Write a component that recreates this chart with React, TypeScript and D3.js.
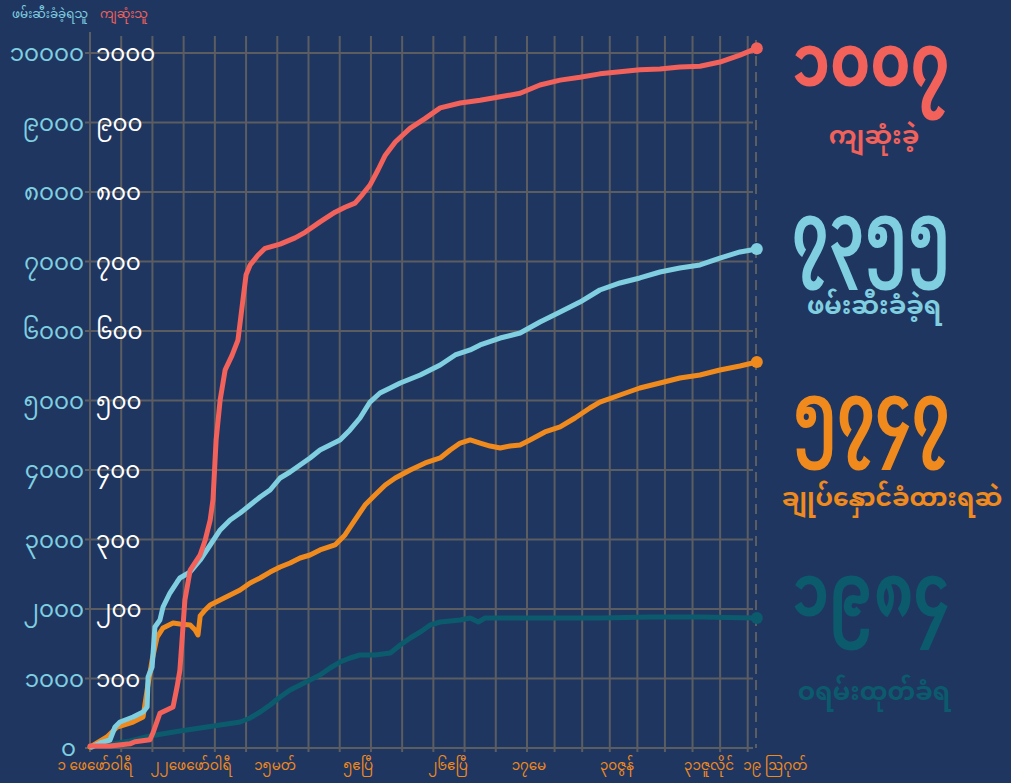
import React from "react";
import * as d3 from "d3";

// ---- data (x = report-grid index, value) ----
const gridUnits = d3.range(0, 23);
const leftTicks = [1000, 2000, 3000, 4000, 5000, 6000, 7000, 8000, 9000, 10000];
const rightTicks = [100, 200, 300, 400, 500, 600, 700, 800, 900, 1000];
const myDigits = ["၀", "၁", "၂", "၃", "၄", "၅", "၆", "၇", "၈", "၉"];
const xLabels: [number, string][] = [
  [0.16, "၁ ဖေဖော်ဝါရီ"],
  [3.24, "၂၂ဖေဖော်ဝါရီ"],
  [5.93, "၁၅မတ်"],
  [8.59, "၅ဧပြီ"],
  [11.47, "၂၆ဧပြီ"],
  [14.07, "၁၇မေ"],
  [17.26, "၃၀ဇွန်"],
  [20.6, "၃၁ဇူလိုင်"],
  [23.0, "၁၉ ဩဂုတ်"],
];

const deaths: [number, number][] = [
  [0, 3], [0.64, 3], [1.28, 6], [1.44, 9], [1.92, 12], [2.02, 22], [2.24, 50], [2.66, 59],
  [2.79, 88], [2.88, 112], [3.04, 213], [3.21, 256], [3.53, 278], [3.69, 299], [3.85, 328],
  [3.94, 357], [4.04, 443], [4.17, 501], [4.33, 544], [4.55, 565], [4.74, 587], [4.9, 645],
  [5.0, 681], [5.13, 695], [5.38, 709], [5.61, 719], [6.09, 725], [6.57, 734], [6.89, 742],
  [7.37, 757], [7.85, 771], [8.17, 778], [8.49, 784], [8.72, 796], [8.97, 810], [9.23, 832],
  [9.46, 853], [9.78, 872], [10.26, 892], [10.74, 906], [11.22, 921], [11.86, 928], [12.5, 932],
  [13.14, 937], [13.78, 942], [14.47, 954], [15.2, 961], [15.92, 965], [16.64, 970], [17.37, 973],
  [18.09, 976], [18.82, 977], [19.54, 980], [20.27, 981], [20.99, 987], [21.72, 997], [22.33, 1007],
];

const arrests: [number, number][] = [
  [0.06, 14], [0.32, 72], [0.64, 115], [0.8, 302], [0.96, 374], [1.38, 446], [1.7, 518],
  [1.83, 590], [1.86, 1022], [1.99, 1165], [2.08, 1741], [2.24, 1842], [2.34, 2029], [2.56, 2230],
  [2.79, 2388], [2.88, 2446], [3.21, 2532], [3.53, 2705], [3.85, 2921], [4.17, 3137], [4.49, 3281],
  [4.81, 3381], [5.13, 3496], [5.45, 3612], [5.77, 3712], [6.09, 3885], [6.41, 3971], [6.73, 4072],
  [7.05, 4173], [7.37, 4288], [7.69, 4360], [8.01, 4432], [8.33, 4576], [8.65, 4748], [8.97, 4978],
  [9.29, 5108], [9.62, 5180], [9.94, 5252], [10.58, 5367], [11.22, 5511], [11.7, 5655], [12.18, 5727],
  [12.5, 5799], [13.14, 5899], [13.78, 5971], [14.47, 6130], [15.2, 6273], [15.92, 6417], [16.64, 6590],
  [17.37, 6691], [18.09, 6763], [18.82, 6849], [19.54, 6906], [20.27, 6950], [20.99, 7050], [21.72, 7137],
  [22.33, 7180],
];

const detained: [number, number][] = [
  [0, 14], [0.54, 158], [0.87, 302], [1.38, 374], [1.7, 446], [1.83, 835], [1.99, 1266], [2.15, 1597],
  [2.34, 1727], [2.66, 1799], [2.88, 1784], [3.21, 1770], [3.37, 1698], [3.46, 1626], [3.53, 1900],
  [3.69, 1986], [3.85, 2058], [4.17, 2129], [4.49, 2201], [4.81, 2273], [5.13, 2374], [5.45, 2446],
  [5.77, 2532], [6.09, 2604], [6.41, 2662], [6.73, 2734], [7.05, 2777], [7.37, 2849], [7.85, 2921],
  [8.17, 3065], [8.49, 3281], [8.81, 3496], [9.13, 3640], [9.46, 3784], [9.78, 3885], [10.26, 4000],
  [10.74, 4101], [11.22, 4173], [11.54, 4288], [11.86, 4388], [12.18, 4432], [12.5, 4388], [12.82, 4345],
  [13.14, 4317], [13.46, 4345], [13.78, 4360], [14.11, 4432], [14.65, 4547], [15.2, 4619], [15.74, 4748],
  [16.28, 4892], [16.64, 4978], [17.37, 5079], [18.09, 5180], [18.82, 5252], [19.54, 5324], [20.27, 5367],
  [20.99, 5439], [21.72, 5496], [22.33, 5554],
];

const warrants: [number, number][] = [
  [0.48, 43], [1.28, 101], [1.92, 173], [2.88, 245], [3.53, 288], [4.17, 331], [4.81, 374], [5.13, 432],
  [5.45, 518], [5.77, 619], [6.09, 734], [6.41, 835], [6.73, 906], [7.05, 978], [7.37, 1050], [7.69, 1151],
  [8.01, 1237], [8.33, 1295], [8.65, 1338], [9.13, 1338], [9.62, 1367], [9.94, 1482], [10.26, 1583],
  [10.58, 1669], [10.9, 1770], [11.22, 1813], [11.54, 1827], [11.86, 1842], [12.18, 1871], [12.44, 1813],
  [12.66, 1871], [13.14, 1871], [14.83, 1871], [16.64, 1871], [18.46, 1885], [20.27, 1885], [22.33, 1871],
];

const totals = [
  { value: "၁၀၀၇", label: "ကျဆုံးခဲ့", color: "#f2625b" },
  { value: "၇၃၅၅", label: "ဖမ်းဆီးခံခဲ့ရ", color: "#7fcfe0" },
  { value: "၅၇၄၇", label: "ချုပ်နှောင်ခံထားရဆဲ", color: "#f08a1d" },
  { value: "၁၉၈၄", label: "ဝရမ်းထုတ်ခံရ", color: "#0b5b6d" },
];

const BG = "#1f3661";
const GRID = "#5c5d61";
const FONT = "'Noto Sans Myanmar', 'Padauk', 'Myanmar Text', 'Noto Sans', sans-serif";

const toMy = (n: number) => String(n).split("").map((c) => myDigits[+c]).join("");

export default function App() {
  const W = 1011, H = 783;
  const x = d3.scaleLinear().domain([0, 14, 22.3]).range([90, 527, 756]);
  const yL = d3.scaleLinear().domain([0, 10000]).range([748, 53]);
  const yR = d3.scaleLinear().domain([0, 1000]).range([748, 53]);
  const lineL = d3.line<[number, number]>().x((d) => x(d[0])).y((d) => yL(d[1]));
  const lineR = d3.line<[number, number]>().x((d) => x(d[0])).y((d) => yR(d[1]));
  const xEnd = x(22.3);
  const series = [
    { data: warrants, gen: lineL, color: totals[3].color, y: yL },
    { data: detained, gen: lineL, color: totals[2].color, y: yL },
    { data: arrests, gen: lineL, color: totals[1].color, y: yL },
    { data: deaths, gen: lineR, color: totals[0].color, y: yR },
  ];
  const bigY = [86, 256, 436, 616];
  const subY = [144, 314, 506, 700];

  return (
    <svg width={W} height={H} style={{ position: "absolute", left: 0, top: 0, background: BG }}
      fontFamily={FONT}>
      <rect width={W} height={H} fill={BG} />
      {/* vertical grid */}
      {gridUnits.map((g) => (
        <line key={"v" + g} x1={x(g)} x2={x(g)} y1={g === 0 ? 32 : 36} y2={752} stroke={GRID} strokeWidth={2} />
      ))}
      {/* horizontal grid */}
      {leftTicks.map((t) => (
        <line key={"h" + t} x1={85} x2={753} y1={yL(t)} y2={yL(t)} stroke={GRID} strokeWidth={2} />
      ))}
      <line x1={85} x2={753} y1={yL(0)} y2={yL(0)} stroke={GRID} strokeWidth={2} />
      <line x1={xEnd} x2={xEnd} y1={40} y2={748} stroke={GRID} strokeWidth={2} strokeDasharray="10,6" />

      {/* left axis labels */}
      {leftTicks.map((t) => (
        <text key={"l" + t} x={84} y={yL(t) + 8} textAnchor="end" fill="#7fcfe0" fontSize={23}>{toMy(t)}</text>
      ))}
      <text x={76} y={yL(0) + 8} textAnchor="end" fill="#7fcfe0" fontSize={23}>{toMy(0)}</text>
      {rightTicks.map((t) => (
        <text key={"r" + t} x={96} y={yR(t) + 8} textAnchor="start" fill="#ffffff" fontSize={23}>{toMy(t)}</text>
      ))}

      {/* headers */}
      <text x={50} y={18} textAnchor="middle" fill="#7fcfe0" fontSize={12}>ဖမ်းဆီးခံခဲ့ရသူ</text>
      <text x={124} y={18} textAnchor="middle" fill="#f2625b" fontSize={12}>ကျဆုံးသူ</text>

      {/* x labels */}
      {xLabels.map(([u, s]) => (
        <text key={s} x={x(u)} y={770} textAnchor="middle" fill="#f08a1d" fontSize={13.5}>{s}</text>
      ))}

      {/* lines */}
      {series.map((s, i) => (
        <g key={i}>
          <path d={s.gen(s.data) || ""} fill="none" stroke={s.color} strokeWidth={5}
            strokeLinejoin="round" strokeLinecap="round" />
          <circle cx={x(s.data[s.data.length - 1][0])} cy={s.y(s.data[s.data.length - 1][1])} r={6} fill={s.color} />
        </g>
      ))}

      {/* totals */}
      {totals.map((t, i) => (
        <g key={t.value}>
          <text x={871} y={bigY[i]} textAnchor="middle" fill={t.color} fontSize={74} fontWeight="bold"
            textLength={158} lengthAdjust="spacingAndGlyphs">{t.value}</text>
          <text x={i === 2 ? 892 : 874} y={subY[i]} textAnchor="middle" fill={t.color} fontSize={25} fontWeight="bold">{t.label}</text>
        </g>
      ))}
    </svg>
  );
}
